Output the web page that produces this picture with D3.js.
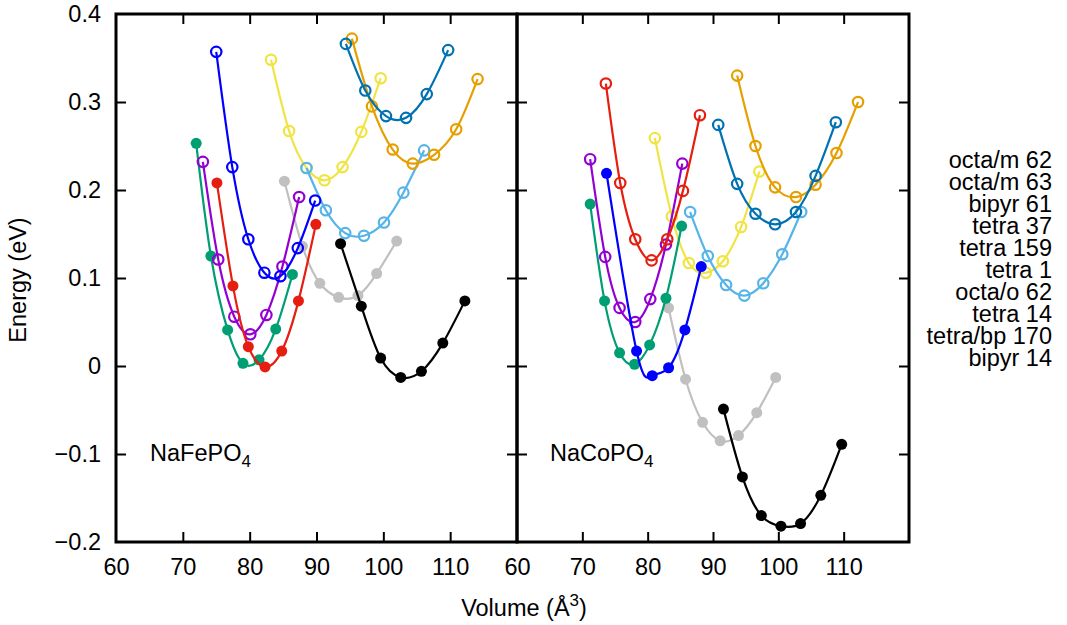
<!DOCTYPE html>
<html>
<head>
<meta charset="utf-8">
<script src="https://cdn.jsdelivr.net/npm/d3@7"></script>
<style>
  html, body { margin: 0; padding: 0; background: #fff; }
  svg { display: block; }
  text { font-family: "Liberation Sans", Arial, Helvetica, sans-serif; fill: #000; }
</style>
</head>
<body>
<svg id="chart" width="1067" height="625"></svg>
<script>
// Structure labels (key, top to bottom)
const structures = ["octa/m 62", "octa/m 63", "bipyr 61", "tetra 37", "tetra 159",
                    "tetra 1", "octa/o 62", "tetra 14", "tetra/bp 170", "bipyr 14"];

// Line colour per structure
const colours = ["#009e73", "#e51e10", "#9400d3", "#0072b2", "#e69f00",
                 "#56b4e9", "#0000ff", "#000000", "#c0c0c0", "#f0e442"];

// Axis ticks
const xTicks = [60, 70, 80, 90, 100, 110];
const yTicks = [-0.2, -0.1, 0, 0.1, 0.2, 0.3, 0.4];

// NaFePO4: [volume (Å^3), energy (eV)] for each structure
const fe_octaM62   = [[72.0, 0.253], [74.2, 0.125], [76.7, 0.041], [79.0, 0.003], [81.4, 0.007], [83.9, 0.042], [86.4, 0.104]];
const fe_octaM63   = [[75.1, 0.208], [77.5, 0.091], [79.8, 0.022], [82.3, -0.001], [84.8, 0.017], [87.3, 0.074], [89.9, 0.161]];
const fe_bipyr61   = [[73.0, 0.232], [75.3, 0.121], [77.7, 0.056], [80.1, 0.036], [82.5, 0.058], [84.9, 0.113], [87.4, 0.192]];
const fe_tetra37   = [[94.4, 0.366], [97.3, 0.313], [100.4, 0.284], [103.4, 0.282], [106.5, 0.309], [109.7, 0.359]];
const fe_tetra159  = [[95.3, 0.372], [98.3, 0.295], [101.4, 0.246], [104.4, 0.230], [107.6, 0.240], [110.9, 0.269], [114.1, 0.326]];
const fe_tetra1    = [[88.5, 0.225], [91.4, 0.177], [94.3, 0.151], [97.1, 0.148], [100.1, 0.163], [103.0, 0.197], [106.1, 0.245]];
const fe_octaO62   = [[75.0, 0.357], [77.4, 0.226], [79.8, 0.144], [82.2, 0.106], [84.6, 0.102], [87.2, 0.134], [89.8, 0.188]];
const fe_tetra14   = [[93.6, 0.139], [96.7, 0.068], [99.6, 0.009], [102.6, -0.013], [105.7, -0.006], [108.9, 0.026], [112.2, 0.074]];
const fe_tetraBp170= [[85.2, 0.210], [87.9, 0.136], [90.5, 0.094], [93.3, 0.078], [96.2, 0.080], [99.0, 0.105], [102.0, 0.142]];
const fe_bipyr14   = [[83.2, 0.348], [85.9, 0.267], [88.5, 0.225], [91.2, 0.211], [93.9, 0.226], [96.7, 0.266], [99.6, 0.327]];

// NaCoPO4: [volume (Å^3), energy (eV)] for each structure
const co_octaM62   = [[71.2, 0.184], [73.4, 0.074], [75.7, 0.015], [78.0, 0.002], [80.3, 0.024], [82.8, 0.077], [85.2, 0.159]];
const co_octaM63   = [[73.6, 0.321], [75.8, 0.208], [78.1, 0.144], [80.6, 0.120], [83.0, 0.144], [85.4, 0.199], [88.0, 0.285]];
const co_bipyr61   = [[71.2, 0.235], [73.5, 0.124], [75.7, 0.066], [78.1, 0.050], [80.4, 0.076], [82.8, 0.138], [85.3, 0.230]];
const co_tetra37   = [[90.8, 0.274], [93.7, 0.207], [96.5, 0.173], [99.5, 0.161], [102.7, 0.175], [105.7, 0.216], [108.8, 0.277]];
const co_tetra159  = [[93.7, 0.330], [96.5, 0.250], [99.5, 0.203], [102.7, 0.192], [105.7, 0.206], [108.9, 0.242], [112.2, 0.300]];
const co_tetra1    = [[86.5, 0.175], [89.2, 0.125], [92.0, 0.092], [94.8, 0.080], [97.7, 0.094], [100.6, 0.127], [103.5, 0.175]];
const co_octaO62   = [[73.7, 0.219], [78.3, 0.017], [80.7, -0.011], [83.2, -0.002], [85.7, 0.041], [88.2, 0.113]];
const co_tetra14   = [[91.6, -0.049], [94.5, -0.126], [97.4, -0.170], [100.4, -0.182], [103.4, -0.179], [106.5, -0.147], [109.7, -0.089]];
const co_tetraBp170= [[83.2, 0.066], [85.8, -0.015], [88.4, -0.064], [91.1, -0.085], [93.9, -0.079], [96.7, -0.053], [99.6, -0.013]];
const co_bipyr14   = [[81.1, 0.259], [83.7, 0.170], [86.3, 0.117], [88.9, 0.106], [91.5, 0.119], [94.3, 0.158], [97.1, 0.221]];

// Structures plotted with filled symbols (others use open circles)
const filledFe = ["octa/m 62", "octa/m 63", "tetra 14", "tetra/bp 170"];
const filledCo = ["octa/m 62", "octa/o 62", "tetra 14", "tetra/bp 170"];

const feSeries = [fe_octaM62, fe_octaM63, fe_bipyr61, fe_tetra37, fe_tetra159,
                  fe_tetra1, fe_octaO62, fe_tetra14, fe_tetraBp170, fe_bipyr14];
const coSeries = [co_octaM62, co_octaM63, co_bipyr61, co_tetra37, co_tetra159,
                  co_tetra1, co_octaO62, co_tetra14, co_tetraBp170, co_bipyr14];

// ---- layout ----
const svg = d3.select("#chart");
const plotTop = 14, plotBottom = 542;
const panels = [
  { name: "NaFePO", series: feSeries, filled: filledFe, x0: 116, x1: 517 },
  { name: "NaCoPO", series: coSeries, filled: filledCo, x0: 517, x1: 909 }
];
const y = d3.scaleLinear().domain([-0.2, 0.4]).range([plotBottom, plotTop]);
const fontSize = 23.5;
const subSize = 17;
const tickLen = 10;

// Order in which the curves are layered
const drawOrder = [9, 5, 8, 7, 4, 3, 0, 2, 1, 6];

panels.forEach((p, pi) => {
  const x = d3.scaleLinear().domain([60, 120]).range([p.x0, p.x1]);
  const g = svg.append("g");

  // bottom axis with labels, ticks pointing inward
  const bx = g.append("g").attr("transform", `translate(0,${plotBottom})`)
    .call(d3.axisBottom(x).tickValues(xTicks).tickSizeInner(-tickLen).tickSizeOuter(0).tickPadding(16));
  // top axis, ticks only
  const tx = g.append("g").attr("transform", `translate(0,${plotTop})`)
    .call(d3.axisTop(x).tickValues(xTicks.slice(1)).tickSizeInner(-tickLen).tickSizeOuter(0).tickFormat(""));
  // left axis, ticks only
  const ly = g.append("g").attr("transform", `translate(${p.x0},0)`)
    .call(d3.axisLeft(y).tickValues(yTicks.slice(1, -1)).tickSizeInner(-tickLen).tickSizeOuter(0).tickFormat(""));
  // right axis, ticks only
  const ry = g.append("g").attr("transform", `translate(${p.x1},0)`)
    .call(d3.axisRight(y).tickValues(yTicks.slice(1, -1)).tickSizeInner(-tickLen).tickSizeOuter(0).tickFormat(""));

  [bx, tx, ly, ry].forEach(a => {
    a.select(".domain").remove();
    a.selectAll(".tick line").attr("stroke", "#000").attr("stroke-width", 2);
  });
  bx.selectAll(".tick text")
    .style("font-size", fontSize + "px")
    .style("font-family", "'Liberation Sans', Arial, sans-serif")
    .attr("fill", "#000");
  bx.selectAll(".tick").filter(d => d === 60).select("line").remove();

  // curves
  const line = d3.line()
    .x(d => x(d[0]))
    .y(d => y(d[1]))
    .curve(d3.curveNatural);

  drawOrder.forEach(i => {
    const data = p.series[i];
    const col = colours[i];
    const isFilled = p.filled.includes(structures[i]);
    const sg = g.append("g");
    sg.append("path")
      .attr("d", line(data))
      .attr("fill", "none")
      .attr("stroke", col)
      .attr("stroke-width", 2.2);
    sg.selectAll("circle").data(data).join("circle")
      .attr("cx", d => x(d[0]))
      .attr("cy", d => y(d[1]))
      .attr("r", isFilled ? 5.5 : 5.2)
      .attr("fill", isFilled ? col : "none")
      .attr("stroke", isFilled ? "none" : col)
      .attr("stroke-width", 2.2);
  });

  // panel label with subscript
  const lbl = g.append("text")
    .attr("x", p.x0 + (pi === 0 ? 34 : 33))
    .attr("y", 461)
    .style("font-size", fontSize + "px");
  lbl.append("tspan").text(p.name);
  lbl.append("tspan").text("4").attr("dy", 6).style("font-size", subSize + "px");

  // frame
  g.append("rect")
    .attr("x", p.x0).attr("y", plotTop)
    .attr("width", p.x1 - p.x0).attr("height", plotBottom - plotTop)
    .attr("fill", "none").attr("stroke", "#000").attr("stroke-width", 3);
});

// y tick labels (left panel only)
svg.append("g").selectAll("text").data(yTicks).join("text")
  .attr("x", 101)
  .attr("y", d => y(d) + 8)
  .attr("text-anchor", "end")
  .style("font-size", fontSize + "px")
  .text(d => d === 0 ? "0" : d3.format(".1f")(d).replace("-", "\u2212"));

// axis titles
svg.append("text")
  .attr("transform", "translate(26,280) rotate(-90)")
  .attr("text-anchor", "middle")
  .style("font-size", fontSize + "px")
  .text("Energy (eV)");

const xt = svg.append("text")
  .attr("x", 524).attr("y", 616)
  .attr("text-anchor", "middle")
  .style("font-size", fontSize + "px");
xt.append("tspan").text("Volume (Å");
xt.append("tspan").text("3").attr("dy", -10).style("font-size", subSize + "px");
xt.append("tspan").text(")").attr("dy", 10);

// key text, right aligned
svg.append("g").selectAll("text").data(structures).join("text")
  .attr("x", 1052)
  .attr("y", (d, i) => 168 + i * 22)
  .attr("text-anchor", "end")
  .style("font-size", fontSize + "px")
  .text(d => d);
</script>
</body>
</html>
